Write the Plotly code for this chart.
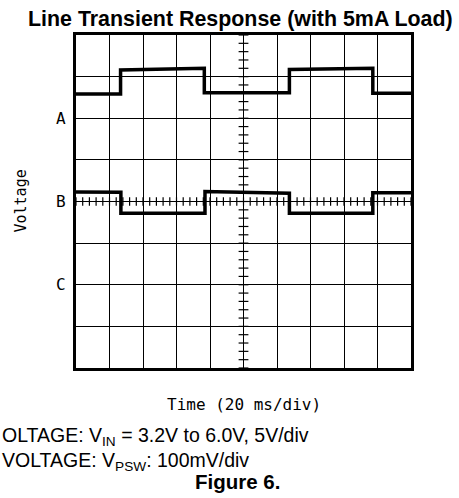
import numpy as np
import plotly.graph_objects as go

# ---- data (grid divisions: x 0..10, y 0..8) ----
a_time = [0, 1.33, 1.33, 3.83, 3.83, 6.37, 6.37, 8.86, 8.86, 10]
a_volt = [6.58, 6.58, 7.16, 7.20, 6.61, 6.61, 7.17, 7.20, 6.60, 6.60]
b_time = [0, 1.34, 1.34, 3.85, 3.85, 6.37, 6.37, 8.86, 8.86, 10]
b_volt = [4.23, 4.22, 3.72, 3.72, 4.24, 4.20, 3.72, 3.72, 4.21, 4.21]
channel_labels = ["A", "B", "C"]
channel_levels = [6, 4, 2]
title_text = "Line Transient Response (with 5mA Load)"
x_title = "Time (20 ms/div)"
y_title = "Voltage"
caption1 = "OLTAGE: V<sub>IN</sub> = 3.2V to 6.0V, 5V/div"
caption2 = "VOLTAGE: V<sub>PSW</sub>: 100mV/div"
figure_label = "<b>Figure 6.</b>"

W, H = 459, 498
L, R, T, B = 76, 48, 35, 130
PW, PH = W - L - R, H - T - B

def px(x):
    return (x - L) / PW

def py(y):
    return (H - B - y) / PH

fig = go.Figure()

# minor ticks on centre lines
hx = np.round(np.arange(0, 10.001, 0.2), 3)
vy = np.round(np.arange(0, 8.001, 0.2), 3)
fig.add_trace(go.Scatter(x=hx, y=[4] * len(hx), mode="markers",
                         marker=dict(symbol="line-ns", size=6, line=dict(width=1.2, color="black")),
                         hoverinfo="skip", showlegend=False))
fig.add_trace(go.Scatter(x=[5] * len(vy), y=vy, mode="markers",
                         marker=dict(symbol="line-ew", size=7, line=dict(width=1.2, color="black")),
                         hoverinfo="skip", showlegend=False))

fig.add_trace(go.Scatter(x=a_time, y=a_volt, mode="lines",
                         line=dict(color="black", width=3.5), showlegend=False))
fig.add_trace(go.Scatter(x=b_time, y=b_volt, mode="lines",
                         line=dict(color="black", width=3.5), showlegend=False))

axis_common = dict(showgrid=True, gridcolor="black", gridwidth=1.2, zeroline=False,
                   showline=True, mirror=True, linecolor="black", linewidth=2.5,
                   showticklabels=False, ticks="", fixedrange=True)
fig.update_xaxes(range=[0, 10], dtick=1, tick0=0, **axis_common)
fig.update_yaxes(range=[0, 8], dtick=1, tick0=0, **axis_common)

mono = "DejaVu Sans Mono"
sans = "Liberation Sans, Arial, sans-serif"
ann = []
ann.append(dict(text="<b>" + title_text + "</b>", x=px(240), y=py(19), xref="paper", yref="paper",
                xanchor="center", yanchor="middle", showarrow=False,
                font=dict(family=sans, size=21.4, color="black")))
for lab, lvl in zip(channel_labels, channel_levels):
    ann.append(dict(text=lab, x=px(61), y=lvl, xref="paper", yref="y",
                    xanchor="center", yanchor="middle", showarrow=False,
                    font=dict(family=mono, size=16, color="black")))
ann.append(dict(text=y_title, x=px(20), y=4, xref="paper", yref="y", textangle=-90,
                xanchor="center", yanchor="middle", showarrow=False,
                font=dict(family=mono, size=15, color="black")))
ann.append(dict(text=x_title, x=px(244), y=py(404), xref="paper", yref="paper",
                xanchor="center", yanchor="middle", showarrow=False,
                font=dict(family=mono, size=16, color="black")))
ann.append(dict(text=caption1, x=px(0), y=py(436.5), xref="paper", yref="paper",
                xanchor="left", yanchor="middle", showarrow=False,
                font=dict(family=sans, size=19.5, color="black")))
ann.append(dict(text=caption2, x=px(0), y=py(461), xref="paper", yref="paper",
                xanchor="left", yanchor="middle", showarrow=False,
                font=dict(family=sans, size=19.5, color="black")))
ann.append(dict(text=figure_label, x=px(237), y=py(481), xref="paper", yref="paper",
                xanchor="center", yanchor="middle", showarrow=False,
                font=dict(family=sans, size=20.5, color="black")))

fig.update_layout(width=W, height=H, margin=dict(l=L, r=R, t=T, b=B),
                  paper_bgcolor="white", plot_bgcolor="white", annotations=ann)

fig.write_html("out.html", config={"displayModeBar": False},
               post_script="document.body.style.margin='0';document.body.style.overflow='hidden';")
